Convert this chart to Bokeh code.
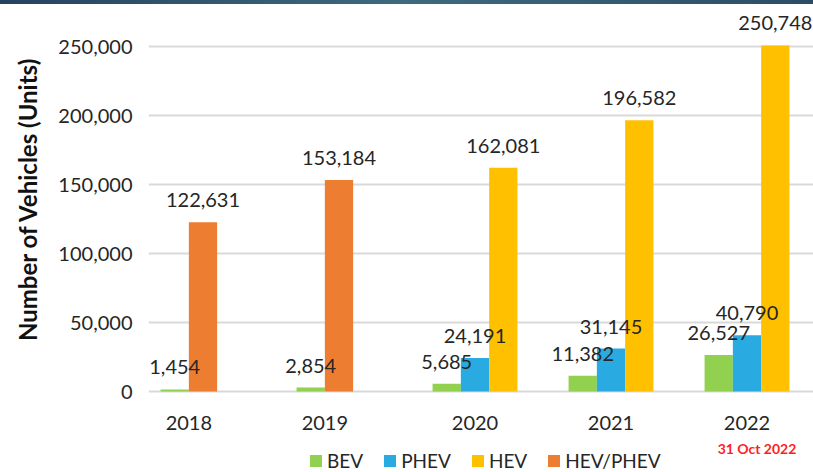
import numpy as np
from bokeh.plotting import figure
from bokeh.layouts import column
from bokeh.models import (ColumnDataSource, FixedTicker, Legend, LegendItem, Range1d, Div)
from bokeh.core.properties import value
from bokeh.embed import file_html
from bokeh.resources import INLINE

# ---- data -------------------------------------------------------------
years = ["2018", "2019", "2020", "2021", "2022"]
series_names = ["BEV", "PHEV", "HEV", "HEV/PHEV"]
bev = [1454, 2854, 5685, 11382, 26527]
phev = [None, None, 24191, 31145, 40790]
hev = [None, None, 162081, 196582, 250748]
hev_phev = [122631, 153184, None, None, None]
y_ticks = [0, 50000, 100000, 150000, 200000, 250000]
note_text = "31 Oct 2022"

colors = {"BEV": "#92D050", "PHEV": "#29ABE2", "HEV": "#FFC000", "HEV/PHEV": "#ED7D31"}
series_vals = {"BEV": bev, "PHEV": phev, "HEV": hev, "HEV/PHEV": hev_phev}
slot_of = {"BEV": 0, "PHEV": 1, "HEV": 2, "HEV/PHEV": 1}

FONT = "Lato"
TXT = "#262626"
W = 0.208  # bar width in category units

# ---- layout constants -------------------------------------------------
PX_PER_UNIT = 136.0
fig_w = 813
band_h, main_h, foot_h = 4, 434, 34
left_b, bottom_b = 148, 45
frame_w = fig_w - left_b
frame_h = main_h - bottom_b
x0 = (148 - 202.5) / PX_PER_UNIT
val_per_px = 250000 / 345.0
y0 = -2 * val_per_px

# ---- thin dark band at the top ---------------------------------------
band = Div(text="", width=fig_w, height=band_h, margin=0,
           styles={"background": "linear-gradient(90deg, #27425f, #3d6a7e 50%, #2c4c66)",
                   "overflow": "hidden"})

# ---- main figure ------------------------------------------------------
p = figure(width=fig_w, height=main_h, output_backend="svg", toolbar_location=None,
           x_range=Range1d(x0, x0 + frame_w / PX_PER_UNIT),
           y_range=Range1d(y0, y0 + frame_h * val_per_px),
           min_border_left=left_b, min_border_right=0, min_border_top=0,
           min_border_bottom=bottom_b)
p.outline_line_color = None
p.background_fill_color = "white"
p.border_fill_color = "white"

tick_pos = []
for i, yr in enumerate(years):
    centers = [i + (slot_of[s] - 1) * W for s in series_names if series_vals[s][i] is not None]
    tick_pos.append(float(np.mean(centers)))

sources = []
renderers = {}
for s in series_names:
    xs, tops, labels = [], [], []
    for i, v in enumerate(series_vals[s]):
        if v is None:
            continue
        xs.append(i + (slot_of[s] - 1) * W)
        tops.append(v)
        labels.append(f"{v:,}")
    src = ColumnDataSource(dict(x=xs, top=tops, label=labels))
    sources.append(src)
    renderers[s] = p.vbar(x="x", top="top", width=W, source=src,
                          fill_color=colors[s], line_color=None)

for src in sources:
    p.text(x="x", y="top", text="label", source=src, text_align="center",
           text_baseline="alphabetic", y_offset=-22, text_font=value(FONT),
           text_font_size="20px", text_color=TXT)

p.yaxis.ticker = FixedTicker(ticks=y_ticks)
p.yaxis.major_label_overrides = {t: f"{t:,}" for t in y_ticks}
p.yaxis.axis_label = "Number of Vehicles (Units)"
p.yaxis.axis_label_text_font = FONT
p.yaxis.axis_label_text_font_style = "bold"
p.yaxis.axis_label_text_font_size = "24px"
p.yaxis.axis_label_text_color = "#111111"
p.yaxis.axis_label_standoff = 13
p.yaxis.major_label_text_font = FONT
p.yaxis.major_label_text_font_size = "20px"
p.yaxis.major_label_text_color = TXT
p.yaxis.major_label_standoff = 10
p.yaxis.axis_line_color = None
p.yaxis.major_tick_line_color = None
p.yaxis.minor_tick_line_color = None

p.xaxis.ticker = FixedTicker(ticks=tick_pos)
p.xaxis.major_label_overrides = {t: y for t, y in zip(tick_pos, years)}
p.xaxis.major_label_text_font = FONT
p.xaxis.major_label_text_font_size = "20px"
p.xaxis.major_label_text_color = TXT
p.xaxis.major_label_standoff = 16
p.xaxis.axis_line_color = None
p.xaxis.major_tick_line_color = None
p.xaxis.minor_tick_line_color = None

p.xgrid.grid_line_color = None
p.ygrid.ticker = FixedTicker(ticks=y_ticks)
p.ygrid.grid_line_color = "#d9d9d9"
p.ygrid.grid_line_width = 2

# ---- footer figure: note + legend -------------------------------------
f = figure(width=fig_w, height=foot_h, output_backend="svg", toolbar_location=None,
           x_range=p.x_range, y_range=Range1d(0, foot_h),
           x_axis_location=None, y_axis_location=None,
           min_border_left=left_b, min_border_right=0, min_border_top=0,
           min_border_bottom=0)
f.outline_line_color = None
f.grid.visible = False
f.background_fill_color = "white"
f.border_fill_color = "white"

note_pos = tick_pos[-1] + 10 / PX_PER_UNIT
f.text(x=[note_pos], y=[24], text=[note_text], text_align="center",
       text_baseline="middle", text_font=value(FONT), text_font_style="bold",
       text_font_size="14px", text_color="#FF1E1E")

# hidden legend proxies sharing the bar data (only their swatches are shown)
leg_renderers = {}
for s, src in zip(series_names, sources):
    leg_renderers[s] = f.vbar(x="x", top="top", width=W, source=src,
                              fill_color=colors[s], line_color=None, visible=False)

items = [LegendItem(label=s, renderers=[leg_renderers[s]]) for s in series_names]
legend = Legend(items=items, orientation="horizontal", location=(160, 0),
                glyph_width=15, glyph_height=15, label_height=20, label_standoff=4,
                spacing=19, padding=0, margin=0, border_line_color=None,
                background_fill_alpha=0, inactive_fill_alpha=0,
                label_text_font=FONT,
                label_text_font_size="19px", label_text_color=TXT)
f.add_layout(legend, "center")

layout = column(band, p, f, spacing=0)
open("out.html", "w").write(file_html(layout, INLINE))
